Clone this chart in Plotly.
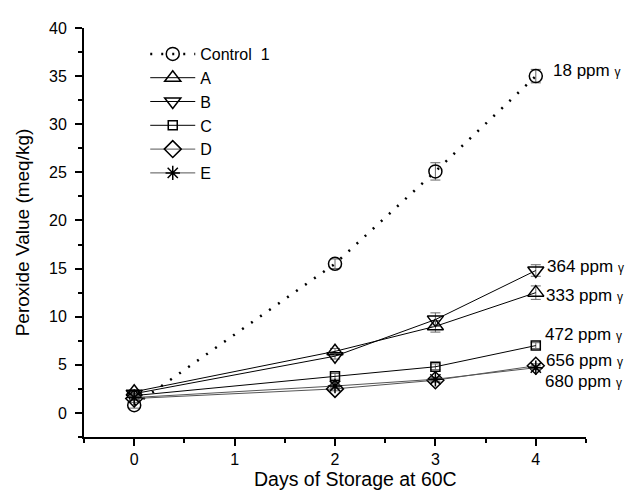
import plotly.graph_objects as go

days = [0, 2, 3, 4]
series_names = ["Control  1", "A", "B", "C", "D", "E"]
control = [0.8, 15.5, 25.1, 35.0]
a_vals = [2.2, 6.4, 9.0, 12.5]
b_vals = [2.0, 5.9, 9.7, 14.8]
c_vals = [1.8, 3.8, 4.8, 7.0]
d_vals = [1.5, 2.5, 3.4, 4.9]
e_vals = [1.6, 2.8, 3.5, 4.7]
control_err = [0.3, 0.5, 0.9, 0.7]
a_err = [0.2, 0.3, 0.6, 0.7]
b_err = [0.2, 0.3, 0.7, 0.6]
c_err = [0.2, 0.3, 0.3, 0.3]
d_err = [0.2, 0.2, 0.2, 0.2]
e_err = [0.2, 0.2, 0.2, 0.2]

label_texts = ["18 ppm", "364 ppm", "333 ppm", "472 ppm", "656 ppm", "680 ppm"]
label_y = [35.6, 15.2, 12.2, 8.2, 5.4, 3.3]
label_x = [4.15, 4.09, 4.08, 4.07, 4.08, 4.07]

x_title = "Days of Storage at 60C"
y_title = "Peroxide Value (meq/kg)"

FONT = "Liberation Sans, Arial, sans-serif"

values = [control, a_vals, b_vals, c_vals, d_vals, e_vals]
errs = [control_err, a_err, b_err, c_err, d_err, e_err]
symbols = ["circle-open", "triangle-up-open", "triangle-down-open", "square-open", "diamond-open", "asterisk-open"]
sizes = [13, 14, 14, 9, 13, 12]
line_colors = ["black", "black", "black", "black", "#555555", "#555555"]
dashes = ["2px,9px", "solid", "solid", "solid", "solid", "solid"]
line_widths = [2.5, 1, 1, 1, 1, 1]

fig = go.Figure()
for name, vals, er, sym, sz, lc, ds, lw in zip(series_names, values, errs, symbols, sizes, line_colors, dashes, line_widths):
    fig.add_trace(go.Scatter(
        x=days, y=vals, name=name, mode="lines+markers",
        line=dict(color=lc, width=lw, dash=ds),
        marker=dict(symbol=sym, size=sz, color="black", line=dict(width=1.5, color="black")),
        error_y=dict(type="data", array=er, visible=True, color="#666666", thickness=1, width=5),
    ))

for t, yv, xv in zip(label_texts, label_y, label_x):
    fig.add_annotation(x=xv, y=yv, xref="x", yref="y", xanchor="left", yanchor="middle",
                       text=t + " <span style='font-size:12px'>γ</span>", showarrow=False,
                       font=dict(family=FONT, size=17, color="black"))

fig.add_annotation(x=2.2, y=0, xref="x", yref="paper", xanchor="center", yanchor="middle",
                   yshift=-42, text=x_title, showarrow=False,
                   font=dict(family=FONT, size=19.5, color="black"))

fig.update_layout(
    width=636, height=492,
    margin=dict(l=76, r=58, t=20, b=63),
    plot_bgcolor="white", paper_bgcolor="white",
    font=dict(family=FONT, size=16, color="black"),
    showlegend=True,
    legend=dict(x=0.122, y=0.978, xanchor="left", yanchor="top", bgcolor="rgba(0,0,0,0)",
                font=dict(family=FONT, size=16, color="black"), itemwidth=45),
    xaxis=dict(range=[-0.5, 4.5], showline=True, linecolor="black", linewidth=2,
               ticks="outside", ticklen=7, tickwidth=1.5, tickcolor="black",
               tickvals=[0, 1, 2, 3, 4], showgrid=False, zeroline=False,
               minor=dict(ticks="outside", ticklen=4, tickwidth=1.5, tickcolor="black", dtick=0.5, tick0=0, showgrid=False),
               tickfont=dict(size=16)),
    yaxis=dict(range=[-2.5, 40], showline=True, linecolor="black", linewidth=2,
               ticks="outside", ticklen=7, tickwidth=1.5, tickcolor="black",
               dtick=5, tick0=0, showgrid=False, zeroline=False, ticklabelstandoff=5,
               minor=dict(ticks="outside", ticklen=4, tickwidth=1.5, tickcolor="black", dtick=2.5, tick0=0, showgrid=False),
               title=dict(text=y_title, font=dict(size=19), standoff=14),
               tickfont=dict(size=16)),
)

fig.write_html("out.html")
